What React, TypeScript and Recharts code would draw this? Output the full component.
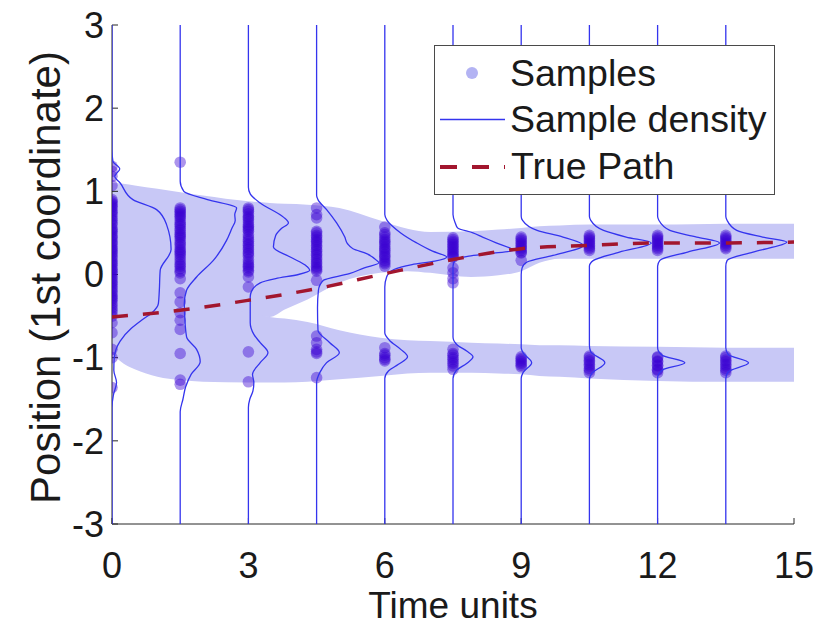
import React from 'react';
import { ComposedChart, Area, Scatter, XAxis, YAxis, Legend } from 'recharts';

// ---------- data ----------
const TIMES = [0, 1.5, 3, 4.5, 6, 7.5, 9, 10.5, 12, 13.5];
const X_TICKS = [0, 3, 6, 9, 12, 15];
const Y_TICKS = [-3, -2, -1, 0, 1, 2, 3];

// shaded band (upper branch and lower branch), ranges [low, high]
const bandX = [0, 0.25, 0.5, 1, 1.5, 2, 3, 3.47, 3.8, 4.3, 5, 5.9, 6.5, 7, 7.9, 8.5, 9, 9.4, 9.85, 10.5, 12, 13.5, 15];
const upperLow = [-0.5, -0.5, -0.5, -0.5, -0.5, -0.5, -0.5, -0.51, -0.42, -0.3, -0.1, 0.02, 0.04, 0.02, -0.03, -0.01, 0.04, 0.14, 0.19, 0.19, 0.19, 0.19, 0.19];
const upperHigh = [1.1, 1.09, 1.07, 1.03, 0.99, 0.95, 0.88, 0.86, 0.85, 0.84, 0.8, 0.65, 0.55, 0.51, 0.52, 0.54, 0.56, 0.58, 0.59, 0.6, 0.6, 0.61, 0.61];
const lowerLow = [-0.95, -1.07, -1.14, -1.23, -1.27, -1.29, -1.3, -1.3, -1.3, -1.29, -1.26, -1.22, -1.19, -1.18, -1.18, -1.19, -1.2, -1.22, -1.23, -1.25, -1.28, -1.29, -1.29];
const lowerHigh = [-0.4, -0.4, -0.4, -0.4, -0.4, -0.42, -0.45, -0.51, -0.53, -0.57, -0.67, -0.76, -0.79, -0.8, -0.82, -0.83, -0.84, -0.85, -0.85, -0.86, -0.87, -0.88, -0.88];

// true path
const truePathX = [0, 1.5, 3, 4.5, 6, 7.5, 9, 10.5, 12, 13.5, 15];
const truePathY = [-0.51, -0.43, -0.31, -0.17, 0.01, 0.18, 0.31, 0.35, 0.38, 0.38, 0.39];

// samples (1st coordinate) at each time
const samples0 = [1.3, 1.24, 1.18, 1.07, 0.9, 0.88, 0.86, 0.84, 0.82, 0.8, 0.77, 0.75, 0.73, 0.7, 0.67, 0.65, 0.62, 0.6, 0.56, 0.54, 0.52, 0.5, 0.47, 0.45, 0.43, 0.4, 0.38, 0.36, 0.33, 0.31, 0.29, 0.27, 0.25, 0.22, 0.2, 0.17, 0.15, 0.13, 0.11, 0.08, 0.06, 0.04, 0.02, 0.0, -0.03, -0.05, -0.08, -0.1, -0.12, -0.15, -0.17, -0.2, -0.22, -0.25, -0.27, -0.29, -0.31, -0.34, -0.37, -0.4, -0.43, -0.46, -0.5, -0.58, -0.7, -0.9, -1.0, -1.36];
const samples1 = [1.35, 0.8, 0.78, 0.76, 0.74, 0.72, 0.7, 0.68, 0.65, 0.62, 0.6, 0.58, 0.55, 0.53, 0.5, 0.48, 0.46, 0.44, 0.41, 0.38, 0.36, 0.33, 0.3, 0.28, 0.26, 0.24, 0.21, 0.18, 0.15, 0.12, 0.1, 0.07, 0.04, 0.02, -0.05, -0.22, -0.33, -0.46, -0.55, -0.66, -0.95, -1.27, -1.32];
const samples2 = [0.8, 0.78, 0.76, 0.73, 0.7, 0.68, 0.66, 0.63, 0.6, 0.58, 0.56, 0.54, 0.52, 0.48, 0.45, 0.42, 0.4, 0.37, 0.35, 0.32, 0.3, 0.27, 0.25, 0.22, 0.18, 0.15, 0.12, 0.1, 0.08, 0.05, 0.03, -0.03, -0.15, -0.93, -1.29];
const samples3 = [0.8, 0.72, 0.68, 0.52, 0.5, 0.47, 0.45, 0.42, 0.4, 0.38, 0.35, 0.33, 0.3, 0.28, 0.25, 0.23, 0.2, 0.18, 0.15, 0.13, 0.1, 0.08, 0.06, 0.04, -0.07, -0.74, -0.82, -0.9, -0.93, -0.95, -1.24];
const samples4 = [0.57, 0.5, 0.48, 0.45, 0.42, 0.4, 0.38, 0.36, 0.33, 0.31, 0.29, 0.27, 0.24, 0.22, 0.2, 0.17, 0.15, 0.13, 0.1, -0.88, -0.95, -0.97, -1.0, -1.02, -1.04];
const samples5 = [0.44, 0.42, 0.4, 0.38, 0.36, 0.34, 0.32, 0.3, 0.28, 0.26, 0.24, 0.22, 0.21, 0.08, 0.02, -0.05, -0.1, -0.9, -0.95, -0.97, -1.0, -1.02, -1.05, -1.07, -1.1, -1.14];
const samples6 = [0.45, 0.43, 0.41, 0.39, 0.37, 0.35, 0.33, 0.31, 0.29, 0.27, 0.26, 0.17, -0.99, -1.01, -1.03, -1.05, -1.07, -1.09, -1.11];
const samples7 = [0.47, 0.45, 0.43, 0.41, 0.39, 0.37, 0.35, 0.33, 0.31, 0.29, -0.98, -1.0, -1.03, -1.05, -1.08, -1.1, -1.13, -1.15, -1.18];
const samples8 = [0.47, 0.45, 0.43, 0.41, 0.39, 0.37, 0.35, 0.33, 0.31, 0.29, -0.99, -1.0, -1.04, -1.05, -1.09, -1.1, -1.14, -1.15, -1.18];
const samples9 = [0.47, 0.45, 0.43, 0.41, 0.39, 0.37, 0.35, 0.33, 0.31, -0.98, -1.0, -1.03, -1.05, -1.08, -1.1, -1.13, -1.15, -1.18];
const SAMPLES = [samples0, samples1, samples2, samples3, samples4, samples5, samples6, samples7, samples8, samples9];

// sample density curves: [position, width in time units to the right of the time line]
const density0 = [[3, 0], [1.5, 0], [1.36, 0.02], [1.27, 0.17], [1.18, 0.06], [1.1, 0.18], [0.9, 0.46], [0.78, 0.98], [0.6, 1.2], [0.3, 1.3], [0.05, 1.06], [-0.2, 1.04], [-0.35, 1.02], [-0.46, 0.88], [-0.55, 0.65], [-0.65, 0.42], [-0.8, 0.18], [-1.0, 0.05], [-1.15, 0.04], [-1.3, 0.1], [-1.45, 0.03], [-1.6, 0], [-3, 0]];
const density1 = [[3, 0], [1.12, 0], [1.0, 0.08], [0.9, 0.6], [0.8, 1.24], [0.72, 1.2], [0.65, 1.21], [0.56, 1.14], [0.41, 1.02], [0.17, 0.73], [-0.03, 0.36], [-0.19, 0.14], [-0.35, 0.09], [-0.51, 0.1], [-0.75, 0.14], [-0.9, 0.36], [-1.05, 0.44], [-1.2, 0.24], [-1.35, 0.12], [-1.5, 0.06], [-1.65, 0], [-3, 0]];
const density2 = [[3, 0], [1.05, 0], [0.97, 0.04], [0.86, 0.26], [0.69, 0.77], [0.62, 0.88], [0.55, 0.72], [0.47, 0.6], [0.33, 0.55], [0.21, 0.92], [0.1, 1.28], [0.05, 1.35], [0, 1.1], [-0.05, 0.6], [-0.1, 0.26], [-0.2, 0.07], [-0.27, 0.04], [-0.58, 0.04], [-0.72, 0.12], [-0.82, 0.26], [-0.94, 0.43], [-1.06, 0.26], [-1.2, 0.09], [-1.3, 0.12], [-1.4, 0.1], [-1.5, 0.03], [-1.6, 0], [-3, 0]];
const density3 = [[3, 0], [0.95, 0], [0.9, 0.03], [0.78, 0.22], [0.62, 0.44], [0.45, 0.62], [0.37, 0.68], [0.31, 0.8], [0.25, 1.1], [0.17, 1.32], [0.14, 1.37], [0.08, 1.05], [0.01, 0.72], [-0.07, 0.15], [-0.19, 0.04], [-0.4, 0.02], [-0.67, 0.03], [-0.82, 0.29], [-0.94, 0.5], [-1.06, 0.22], [-1.18, 0.07], [-1.3, 0], [-3, 0]];
const density4 = [[3, 0], [0.72, 0], [0.65, 0.05], [0.5, 0.35], [0.38, 0.7], [0.28, 1.05], [0.21, 1.36], [0.16, 1.1], [0.12, 0.6], [0.06, 0.2], [-0.03, 0.04], [-0.15, 0], [-0.7, 0], [-0.79, 0.1], [-0.9, 0.35], [-0.99, 0.5], [-1.08, 0.3], [-1.16, 0.08], [-1.25, 0], [-3, 0]];
const density5 = [[3, 0], [0.72, 0], [0.62, 0.05], [0.56, 0.1], [0.5, 0.44], [0.45, 0.65], [0.38, 0.95], [0.29, 1.32], [0.25, 0.8], [0.22, 0.35], [0.18, 0.06], [0.1, 0], [-0.75, 0], [-0.85, 0.1], [-0.92, 0.3], [-0.99, 0.44], [-1.07, 0.3], [-1.15, 0.08], [-1.25, 0], [-3, 0]];
const density6 = [[3, 0], [0.7, 0], [0.65, 0.03], [0.53, 0.35], [0.45, 0.92], [0.35, 1.36], [0.23, 0.7], [0.15, 0.13], [0.08, 0.02], [0, 0], [-0.88, 0], [-0.94, 0.04], [-1.06, 0.23], [-1.18, 0.04], [-1.25, 0], [-3, 0]];
const density7 = [[3, 0], [0.7, 0], [0.65, 0.03], [0.53, 0.31], [0.45, 0.81], [0.38, 1.36], [0.27, 0.66], [0.17, 0.09], [0.1, 0], [-0.85, 0], [-0.93, 0.03], [-1.06, 0.34], [-1.19, 0.05], [-1.27, 0], [-3, 0]];
const density8 = [[3, 0], [0.7, 0], [0.65, 0.03], [0.53, 0.27], [0.45, 0.86], [0.38, 1.36], [0.27, 0.66], [0.17, 0.05], [0.1, 0], [-0.88, 0], [-0.97, 0.1], [-1.06, 0.6], [-1.15, 0.1], [-1.24, 0], [-3, 0]];
const density9 = [[3, 0], [0.7, 0], [0.65, 0.03], [0.53, 0.24], [0.45, 0.81], [0.39, 1.34], [0.27, 0.6], [0.17, 0.03], [0.1, 0], [-0.88, 0], [-0.96, 0.05], [-1.06, 0.5], [-1.17, 0.05], [-1.25, 0], [-3, 0]];
const DENSITIES = [density0, density1, density2, density3, density4, density5, density6, density7, density8, density9];

// ---------- styles ----------
const FONT = '"Liberation Sans", Arial, Helvetica, sans-serif';
const TEXT_COLOR = '#1a1a1a';
const AXIS_COLOR = '#262626';
const BAND_COLOR = '#c8c8f6';
const SAMPLE_COLOR = '#3a00d2';
const DENSITY_COLOR = '#3434ee';
const PATH_COLOR = '#a2162e';

// ---------- derived tables ----------
const bandData = bandX.map((x, i) => ({
  x,
  upper: [upperLow[i], upperHigh[i]],
  lower: [lowerLow[i], lowerHigh[i]],
}));

const sampleData = TIMES.flatMap((t, i) => SAMPLES[i].map((y) => ({ x: t, y })));

const densityData = DENSITIES.map((curve, i) =>
  curve
    .map(([y, w]) => ({ x: TIMES[i] + w, y }))
    .sort((a, b) => a.y - b.y)
);

const truePathData = truePathX.map((x, i) => ({ x, y: truePathY[i] }));

const SampleDot = (props: any) => (
  <circle cx={props.cx} cy={props.cy} r={5.8} fill={SAMPLE_COLOR} fillOpacity={0.42} />
);
const NoDot = () => <g />;

const YLabel = (props: any) => {
  const vb = props.viewBox || { x: 0, y: 0, height: 0 };
  const cx = vb.x + 60;
  const cy = vb.y + vb.height / 2 + 3;
  return (
    <text
      x={cx}
      y={cy}
      transform={`rotate(-90 ${cx} ${cy})`}
      textAnchor="middle"
      fontSize={42}
      fontFamily={FONT}
      fill={TEXT_COLOR}
    >
      Position (1st coordinate)
    </text>
  );
};

const XLabel = (props: any) => {
  const vb = props.viewBox || { x: 0, y: 0, width: 0, height: 0 };
  return (
    <text
      x={vb.x + vb.width / 2}
      y={vb.y + vb.height - 11}
      textAnchor="middle"
      fontSize={37}
      fontFamily={FONT}
      fill={TEXT_COLOR}
    >
      Time units
    </text>
  );
};

const LegendBox = () => (
  <svg width={341} height={150} style={{ display: 'block' }}>
    <rect x={0.5} y={0.5} width={340} height={149} fill="#ffffff" stroke="#4a4a4a" strokeWidth={1} />
    <circle cx={38} cy={28} r={6} fill="#b3b3f3" />
    <text x={76} y={41} fontSize={37.5} fontFamily={FONT} fill={TEXT_COLOR}>Samples</text>
    <line x1={6} x2={71} y1={74.5} y2={74.5} stroke={DENSITY_COLOR} strokeWidth={1.3} />
    <text x={76} y={87} fontSize={37.5} fontFamily={FONT} fill={TEXT_COLOR}>Sample density</text>
    <line x1={6} x2={71} y1={122} y2={122} stroke={PATH_COLOR} strokeWidth={4} strokeDasharray="17 15" />
    <text x={77} y={134} fontSize={37.5} fontFamily={FONT} fill={TEXT_COLOR}>True Path</text>
  </svg>
);

export default function App() {
  return (
    <div style={{ position: 'fixed', left: 0, top: 0, background: '#ffffff' }}>
      <ComposedChart
        width={815}
        height={629}
        data={bandData}
        margin={{ top: 25, right: 21, bottom: 0, left: 0 }}
      >
        <XAxis
          dataKey="x"
          type="number"
          domain={[0, 15]}
          ticks={X_TICKS}
          allowDataOverflow
          height={105}
          stroke={AXIS_COLOR}
          tickSize={-6}
          tickMargin={34}
          tick={{ fontSize: 36, fontFamily: FONT, fill: TEXT_COLOR }}
          label={<XLabel />}
        />
        <YAxis
          type="number"
          domain={[-3, 3]}
          ticks={Y_TICKS}
          allowDataOverflow
          width={112}
          stroke={AXIS_COLOR}
          tickSize={-6}
          tickMargin={14}
          tick={{ fontSize: 36, fontFamily: FONT, fill: TEXT_COLOR }}
          label={<YLabel />}
        />
        <Area
          dataKey="upper"
          type="monotone"
          stroke="none"
          fill={BAND_COLOR}
          fillOpacity={1}
          isAnimationActive={false}
          legendType="none"
        />
        <Area
          dataKey="lower"
          type="monotone"
          stroke="none"
          fill={BAND_COLOR}
          fillOpacity={1}
          isAnimationActive={false}
          legendType="none"
        />
        <Scatter
          name="Samples"
          data={sampleData}
          dataKey="y"
          shape={SampleDot}
          isAnimationActive={false}
        />
        {densityData.map((d, i) => (
          <Scatter
            key={`dens-${i}`}
            data={d}
            dataKey="y"
            shape={NoDot}
            line={{ stroke: DENSITY_COLOR, strokeWidth: 1.3 }}
            lineJointType="monotoneY"
            fill={DENSITY_COLOR}
            isAnimationActive={false}
          />
        ))}
        <Scatter
          name="True Path"
          data={truePathData}
          dataKey="y"
          shape={NoDot}
          line={{ stroke: PATH_COLOR, strokeWidth: 3.5, strokeDasharray: '16 15' }}
          lineJointType="monotoneX"
          fill={PATH_COLOR}
          isAnimationActive={false}
        />
        <Legend
          layout="horizontal"
          verticalAlign="middle"
          align="center"
          content={LegendBox}
          wrapperStyle={{ left: 434, top: 45, width: 341, height: 150 }}
        />
      </ComposedChart>
    </div>
  );
}
